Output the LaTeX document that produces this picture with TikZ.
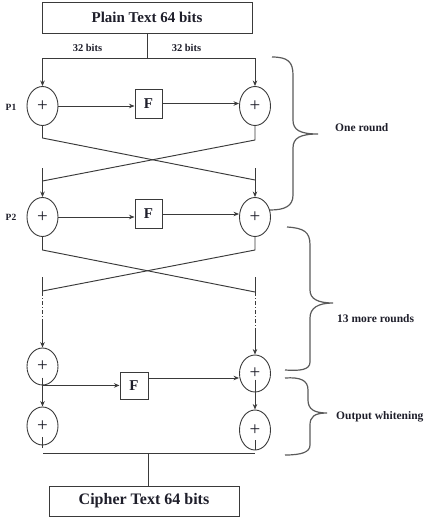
\documentclass[tikz,border=0pt]{standalone}
\usepackage{fontspec}
\setmainfont{Liberation Serif}
\usetikzlibrary{shapes.geometric,arrows.meta,calc}
\definecolor{ln}{HTML}{3A3A3A}
\definecolor{br}{HTML}{5A5A5A}
\definecolor{tx}{HTML}{1E1E2A}
\begin{document}
\begin{tikzpicture}[x=1pt,y=-1pt,
  bigbox/.style={draw=ln, line width=1pt, inner sep=0pt, text=tx, font=\fontsize{15}{18}\selectfont\bfseries},
  xorn/.style={ellipse, draw=ln, line width=0.9pt, minimum width=31pt, minimum height=39pt, inner sep=0pt, text=tx, font=\fontsize{19}{20}\selectfont},
  fbox/.style={draw=ln, line width=1pt, minimum width=27pt, minimum height=29pt, inner sep=0pt, text=tx, font=\fontsize{15}{18}\selectfont\bfseries},
  lab/.style={text=tx, inner sep=0pt, font=\fontsize{11.5}{13}\selectfont\bfseries},
  plab/.style={text=tx, inner sep=0pt, font=\fontsize{9.5}{11}\selectfont\bfseries},
  wire/.style={draw=ln, line width=0.95pt},
  arr/.style={-{Stealth[length=5.5pt,width=4.5pt]}},
  dashseg/.style={draw=ln, line width=0.9pt, dash pattern=on 4pt off 2pt on 1pt off 2pt},
  brace/.style={draw=br, line width=1.2pt}
]
\useasboundingbox (0,0) rectangle (425,520);

% top box
\node[bigbox, minimum width=210pt, minimum height=31pt] (pt) at (147,17.5) {Plain Text 64 bits};
\coordinate (sp) at (147,58);
\node[lab, font=\fontsize{10.5}{12}\selectfont\bfseries] (b1) at (87.5,48) {32 bits};
\node[lab, font=\fontsize{10.5}{12}\selectfont\bfseries] (b2) at (186.5,48) {32 bits};

% row 1
\node[xorn] (c1L) at (42.5,106) {+};
\node[xorn] (c1R) at (255,106) {+};
\node[fbox] (F1) at (148.5,103.5) {F};
\node[plab] (p1) at (11,107) {P1};

\draw[wire] (pt.south) -- (sp);
\draw[wire,arr] (sp) -| (c1L.north);
\draw[wire,arr] (sp) -| (c1R.north);
\draw[wire,arr] (c1L.east) -- (c1L.east -| F1.west);
\draw[wire,arr] (F1.east) -- (F1.east -| c1R.west);

% cross 1
\coordinate (x1a) at (42.5,138);
\coordinate (x1b) at (255,180);
\coordinate (x1c) at (255,140);
\coordinate (x1d) at (42.5,181);
\coordinate (v2L) at (42.5,168);
\coordinate (v2R) at (255,168);
\draw[wire] (c1L.south) -- (x1a) -- (x1b);
\draw[wire] (c1R.south) -- (x1c) -- (x1d);

% row 2
\node[xorn] (c2L) at (42.5,217) {+};
\node[xorn] (c2R) at (255,217) {+};
\node[fbox] (F2) at (148.5,214) {F};
\node[plab] (p2) at (11,217) {P2};
\draw[wire,arr] (v2L) -- (c2L.north);
\draw[wire,arr] (v2R) -- (c2R.north);
\draw[wire,arr] (c2L.east) -- (c2L.east -| F2.west);
\draw[wire,arr] (F2.east) -- (F2.east -| c2R.west);

% cross 2
\coordinate (x2a) at (42.5,250);
\coordinate (x2b) at (255,292);
\coordinate (x2c) at (255,250);
\coordinate (x2d) at (42.5,291);
\draw[wire] (c2L.south) -- (x2a) -- (x2b);
\draw[wire] (c2R.south) -- (x2c) -- (x2d);

% row 3
\node[xorn, minimum height=37pt] (c3L) at (42.5,366.5) {+};
\node[xorn, minimum height=37pt] (c3R) at (255,373.5) {+};
\node[fbox, minimum width=28pt, minimum height=27pt] (F3) at (134,385.5) {F};

\coordinate (v3La) at (42.5,277);
\coordinate (v3Lb) at (42.5,292);
\coordinate (v3Lc) at (42.5,322);
\coordinate (v3Ra) at (255,277);
\coordinate (v3Rb) at (255,292);
\coordinate (v3Rc) at (255,330);
\draw[wire] (v3La) -- (v3Lb);
\draw[dashseg] (v3Lb) -- (v3Lc);
\draw[wire,arr] (v3Lc) -- (c3L.north);
\draw[wire] (v3Ra) -- (v3Rb);
\draw[dashseg] (v3Rb) -- (v3Rc);
\draw[wire,arr] (v3Rc) -- (c3R.north);

\draw[wire,arr] (c3L.south) -- (c3L.south -| F3.west);
\path ([yshift=7.5pt]F3.east) coordinate (f3o);
\draw[wire,arr] (f3o) -- (f3o -| c3R.west);

% row 4
\node[xorn, minimum height=38pt] (c4L) at (42.5,426) {+};
\node[xorn, minimum height=40pt] (c4R) at (255,430) {+};
\draw[wire,arr] ($(c3L.center)+(0,11)$) -- (c4L.north);
\draw[wire,arr] ($(c3R.center)+(0,6)$) -- (c4R.north);
\draw[wire] ($(c4L.center)+(0,11)$) -- ($(c4L.south)+(0,3)$);
\draw[wire] ($(c4R.center)+(0,10)$) -- ($(c4R.south)+(0,0)$);

% bottom
\node[bigbox, minimum width=190pt, minimum height=30pt, font=\fontsize{16}{18}\selectfont\bfseries] (ct) at (144,501) {Cipher Text 64 bits};
\coordinate (jl) at (43,453);
\coordinate (jr) at (255,453);
\coordinate (jm) at (148,453);
\draw[wire] (jl) -- (jr);
\draw[wire] (jm) -- (jm |- ct.north);

% braces
\draw[brace] (272,57) .. controls (288,57) and (293,62) .. (293,75) -- (293,120)
  .. controls (293,130) and (300,134) .. (318,134)
  .. controls (300,134) and (293,138) .. (293,148) -- (293,195)
  .. controls (293,206) and (285,210) .. (270,210);
\node[lab, anchor=west] (l1) at (335,128) {One round};

\draw[brace] (287,227) .. controls (304,228) and (310,232) .. (310,245) -- (310,290)
  .. controls (310,299) and (318,303) .. (333,303)
  .. controls (318,303) and (310,308) .. (310,318) -- (310,362)
  .. controls (310,370) and (300,371) .. (285,370);
\node[lab, anchor=west] (l2) at (337,319) {13 more rounds};

\draw[brace] (285,378) .. controls (300,377) and (308,380) .. (308,390) -- (308,400)
  .. controls (308,409) and (314,413) .. (327,413)
  .. controls (314,413) and (310,417) .. (310,425) -- (310,445)
  .. controls (310,452) and (302,455) .. (285,455);
\node[lab, anchor=west] (l3) at (336,417) {Output whitening};
\end{tikzpicture}
\end{document}
